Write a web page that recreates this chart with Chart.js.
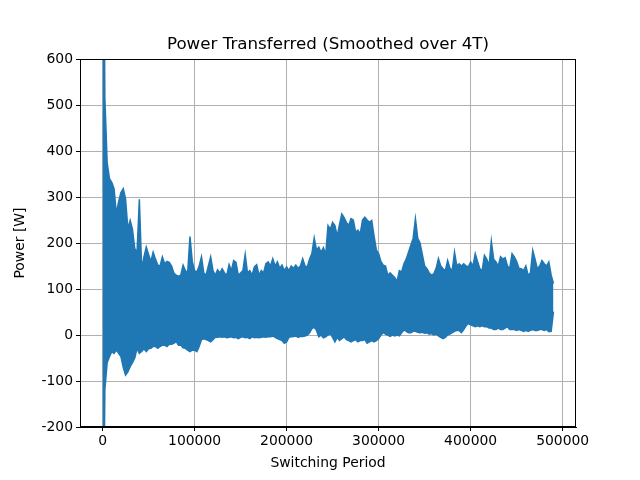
<!DOCTYPE html>
<html><head><meta charset="utf-8">
<script src="https://cdn.jsdelivr.net/npm/chart.js@4.4.1/dist/chart.umd.min.js"></script>
<style>html,body{margin:0;padding:0;background:#fff}</style>
</head><body>
<canvas id="c" width="640" height="480"></canvas>
<script>
// Switching period sample positions (thousands)
const periodsK = [
  0,1.5,2.5,5,7.5,10,12.5,15,17.5,20,22.5,
  25,27.5,30,32.5,35,37.5,40,42.5,45,47.5,
  50,52.5,55,57.5,60,62.5,65,67.5,70,72.5,
  75,77.5,80,82.5,85,87.5,90,92.5,95,97.5,
  100,102.5,105,107.5,110,112.5,115,117.5,120,122.5,
  125,127.5,130,132.5,135,137.5,140,142.5,145,147.5,
  150,152.5,155,157.5,160,162.5,165,167.5,170,172.5,
  175,177.5,180,182.5,185,187.5,190,192.5,195,197.5,
  200,202.5,205,207.5,210,212.5,215,217.5,220,222.5,
  225,227.5,230,232.5,235,237.5,240,242.5,245,247.5,
  250,252.5,255,257.5,260,262.5,265,267.5,270,272.5,
  275,277.5,280,282.5,285,287.5,290,292.5,295,297.5,
  300,302.5,305,307.5,310,312.5,315,317.5,320,322.5,
  325,327.5,330,332.5,335,337.5,340,342.5,345,347.5,
  350,352.5,355,357.5,360,362.5,365,367.5,370,372.5,
  375,377.5,380,382.5,385,387.5,390,392.5,395,397.5,
  400,402.5,405,407.5,410,412.5,415,417.5,420,422.5,
  425,427.5,430,432.5,435,437.5,440,442.5,445,447.5,
  450,452.5,455,457.5,460,462.5,465,467.5,470,472.5,
  475,477.5,480,482.5,485,487.5,490
];
// Upper envelope of the oscillating power [W]
const powerUpper = [
  900,850,516,375,340,332,318,264,290,310,318,
  296,231,249,230,188,180,295,144,170,191,
  175,160,180,165,152,150,170,155,160,158,
  150,135,130,128,130,152,140,135,214,160,
  140,137,150,170,135,130,150,170,140,130,
  142,135,144,135,130,153,140,162,158,130,
  135,140,175,135,140,130,148,153,130,140,
  135,155,159,150,166,150,159,145,152,140,
  148,140,150,145,152,145,150,166,150,148,
  165,177,211,185,191,180,190,175,238,230,
  245,238,215,240,263,255,245,238,253,250,
  224,228,220,250,256,250,245,249,216,185,
  177,160,152,150,130,135,130,125,116,140,
  137,155,165,180,195,210,253,210,200,175,
  150,144,135,130,133,145,166,150,144,140,
  162,145,140,180,150,155,150,155,150,148,
  159,150,177,160,144,140,173,165,150,204,
  165,159,150,170,165,168,150,145,177,170,
  160,145,144,140,150,130,135,184,165,144,
  150,162,155,150,159,130,112
];
// Lower envelope of the oscillating power [W]
const powerLower = [
  -400,-350,-119,-60,-47,-36,-40,-33,-40,-47,-70,
  -87,-80,-69,-60,-50,-29,-40,-36,-30,-36,
  -30,-29,-25,-25,-29,-25,-22,-22,-25,-20,
  -20,-18,-14,-22,-22,-28,-29,-33,-36,-33,
  -33,-36,-25,-10,-8,-10,-12,-15,-10,-5,
  -5,-4,-5,-4,-6,-5,-4,-6,-5,-8,
  -5,-4,-6,-5,-8,-4,-6,-5,-6,-5,
  -4,-5,-4,-4,-2,-5,-8,-10,-12,-18,
  -15,-5,-4,-3,-2,-5,-3,-3,-2,0,
  5,14,17,10,-4,0,-6,-4,0,3,
  -5,-15,-5,-12,-8,-4,-10,-12,-15,-12,
  -10,-15,-12,-12,-10,-18,-15,-12,-15,-12,
  -8,0,5,2,0,-3,0,-2,0,-2,
  5,11,8,5,5,8,8,6,5,6,
  4,5,2,3,0,2,-2,-5,-8,-5,
  0,2,5,8,10,10,5,12,20,25,
  22,20,18,20,18,20,18,18,15,15,
  12,12,15,12,12,15,18,12,12,12,
  10,12,10,8,10,8,10,12,10,10,
  12,12,10,12,7,8,51
];
const xTickValues = [0,100000,200000,300000,400000,500000];
const yTickValues = [-200,-100,0,100,200,300,400,500,600];

const upperPts = periodsK.map((p,i)=>({x:p*1000,y:powerUpper[i]}));
const lowerPts = periodsK.map((p,i)=>({x:p*1000,y:powerLower[i]}));

const FONT = "'DejaVu Sans', sans-serif";
const BLUE = '#1f77b4';

const frame = {
  id:'frame',
  afterDraw(chart){
    const a = chart.chartArea, c = chart.ctx;
    c.save();
    c.strokeStyle = '#000'; c.lineWidth = 1;
    c.strokeRect(Math.round(a.left)+0.5, Math.round(a.top)+0.5, Math.round(a.right-a.left)-1, Math.round(a.bottom-a.top)-1);
    c.restore();
  }
};

new Chart(document.getElementById('c'), {
  type:'line',
  data:{datasets:[
    {data:upperPts, borderColor:BLUE, backgroundColor:BLUE, borderWidth:1.5, pointRadius:0, fill:'+1', tension:0},
    {data:lowerPts, borderColor:BLUE, backgroundColor:BLUE, borderWidth:1.5, pointRadius:0, fill:false, tension:0}
  ]},
  options:{
    responsive:false, animation:false, devicePixelRatio:1,
    layout:{padding:{left:0,right:64,top:0,bottom:0}},
    plugins:{
      legend:{display:false}, tooltip:{enabled:false},
      title:{display:true, fullSize:false, text:'Power Transferred (Smoothed over 4T)', color:'#000',
        font:{family:FONT, size:16.7, weight:'normal', lineHeight:1.2}, padding:{top:35,bottom:4}}
    },
    scales:{
      x:{type:'linear', min:-24500, max:514500,
        afterBuildTicks:s=>{s.ticks = xTickValues.map(v=>({value:v}));},
        afterFit:s=>{s.height = 53;},
        grid:{color:'#b0b0b0', lineWidth:1, tickColor:'#000', tickLength:4},
        border:{color:'#000', width:1},
        ticks:{color:'#000', font:{family:FONT, size:13.9}, padding:2, maxRotation:0, autoSkip:false, callback:v=>String(v)},
        title:{display:true, text:'Switching Period', color:'#000', font:{family:FONT, size:13.9}, padding:{top:0,bottom:8}}
      },
      y:{type:'linear', min:-200, max:600,
        afterBuildTicks:s=>{s.ticks = yTickValues.map(v=>({value:v}));},
        afterFit:s=>{s.width = 80;},
        grid:{color:'#b0b0b0', lineWidth:1, tickColor:'#000', tickLength:4},
        border:{color:'#000', width:1},
        ticks:{color:'#000', font:{family:FONT, size:13.9}, padding:3, autoSkip:false, callback:v=>String(v)},
        title:{display:true, text:'Power [W]', color:'#000', font:{family:FONT, size:13.9}, padding:{top:12,bottom:0}}
      }
    }
  },
  plugins:[frame]
});
</script>
</body></html>
